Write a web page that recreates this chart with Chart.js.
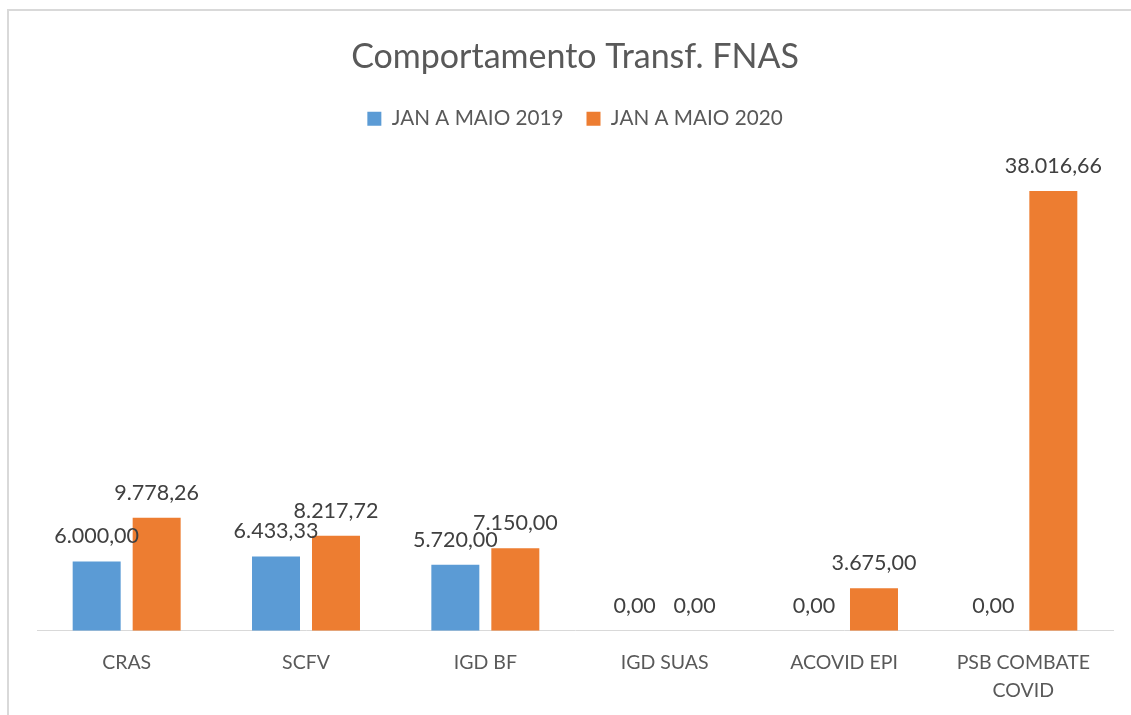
<!DOCTYPE html>
<html>
<head>
<meta charset="utf-8">
<script src="https://cdn.jsdelivr.net/npm/chart.js@4/dist/chart.umd.min.js"></script>
<style>
	html, body { margin: 0; padding: 0; background: #fff; overflow: hidden; }
	#box {
		position: absolute;
		left: 7px;
		top: 9px;
		width: 1140px;
		height: 740px;
		border-left: 2px solid #d9d9d9;
		border-top: 2px solid #d9d9d9;
	}
	#chart { display: block; }
</style>
</head>
<body>
<div id="box"><canvas id="chart" width="1134" height="723"></canvas></div>
<script>
const categories = ["CRAS", "SCFV", "IGD BF", "IGD SUAS", "ACOVID EPI", ["PSB COMBATE", "COVID"]];
const seriesNames = ["JAN A MAIO 2019", "JAN A MAIO 2020"];
const values2019 = [6000.00, 6433.33, 5720.00, 0.00, 0.00, 0.00];
const values2020 = [9778.26, 8217.72, 7150.00, 0.00, 3675.00, 38016.66];
const yMax = 40000;

// "6.000,00" style numbers
function formatBR(v) {
	const parts = v.toFixed(2).split(".");
	const intPart = parts[0].replace(/\B(?=(\d{3})+(?!\d))/g, ".");
	return intPart + "," + parts[1];
}

const valueLabels = {
	id: "valueLabels",
	afterDatasetsDraw(chart) {
		const ctx = chart.ctx;
		ctx.save();
		ctx.font = "21.5px Lato";
		ctx.fillStyle = "#404040";
		ctx.textAlign = "center";
		ctx.textBaseline = "middle";
		chart.data.datasets.forEach((ds, i) => {
			chart.getDatasetMeta(i).data.forEach((bar, j) => {
				ctx.fillText(formatBR(ds.data[j]), bar.x, bar.y - 25);
			});
		});
		ctx.restore();
	}
};

// push the plot area down under the legend
const legendGap = {
	id: "legendGap",
	beforeInit(chart) {
		const fit = chart.legend.fit;
		chart.legend.fit = function () {
			fit.call(this);
			this.height += 29;
		};
	}
};

new Chart(document.getElementById("chart"), {
	type: "bar",
	data: {
		labels: categories,
		datasets: [
			{
				label: seriesNames[0],
				data: values2019,
				backgroundColor: "#5B9BD5",
				categoryPercentage: 0.669,
				barPercentage: 0.8
			},
			{
				label: seriesNames[1],
				data: values2020,
				backgroundColor: "#ED7D31",
				categoryPercentage: 0.669,
				barPercentage: 0.8
			}
		]
	},
	options: {
		responsive: false,
		animation: false,
		devicePixelRatio: 1,
		layout: { padding: { left: 28, right: 30, top: 0, bottom: 11 } },
		plugins: {
			title: {
				display: true,
				text: "Comportamento Transf. FNAS",
				color: "#595959",
				font: { family: "Lato", size: 34, weight: "normal", lineHeight: 1.1 },
				padding: { top: 27, bottom: 10 }
			},
			legend: {
				labels: {
					color: "#595959",
					font: { family: "Lato", size: 20.7 },
					boxWidth: 14,
					boxHeight: 14,
					padding: 23
				}
			},
			tooltip: { enabled: false }
		},
		scales: {
			x: {
				grid: { display: false, drawTicks: false },
				border: { display: true, color: "#d9d9d9", width: 1 },
				ticks: {
					color: "#595959",
					font: { family: "Lato", size: 19.5, lineHeight: 1.44 },
					padding: 18,
					maxRotation: 0
				}
			},
			y: {
				display: false,
				min: 0,
				max: yMax
			}
		}
	},
	plugins: [valueLabels, legendGap]
});
</script>
</body>
</html>
